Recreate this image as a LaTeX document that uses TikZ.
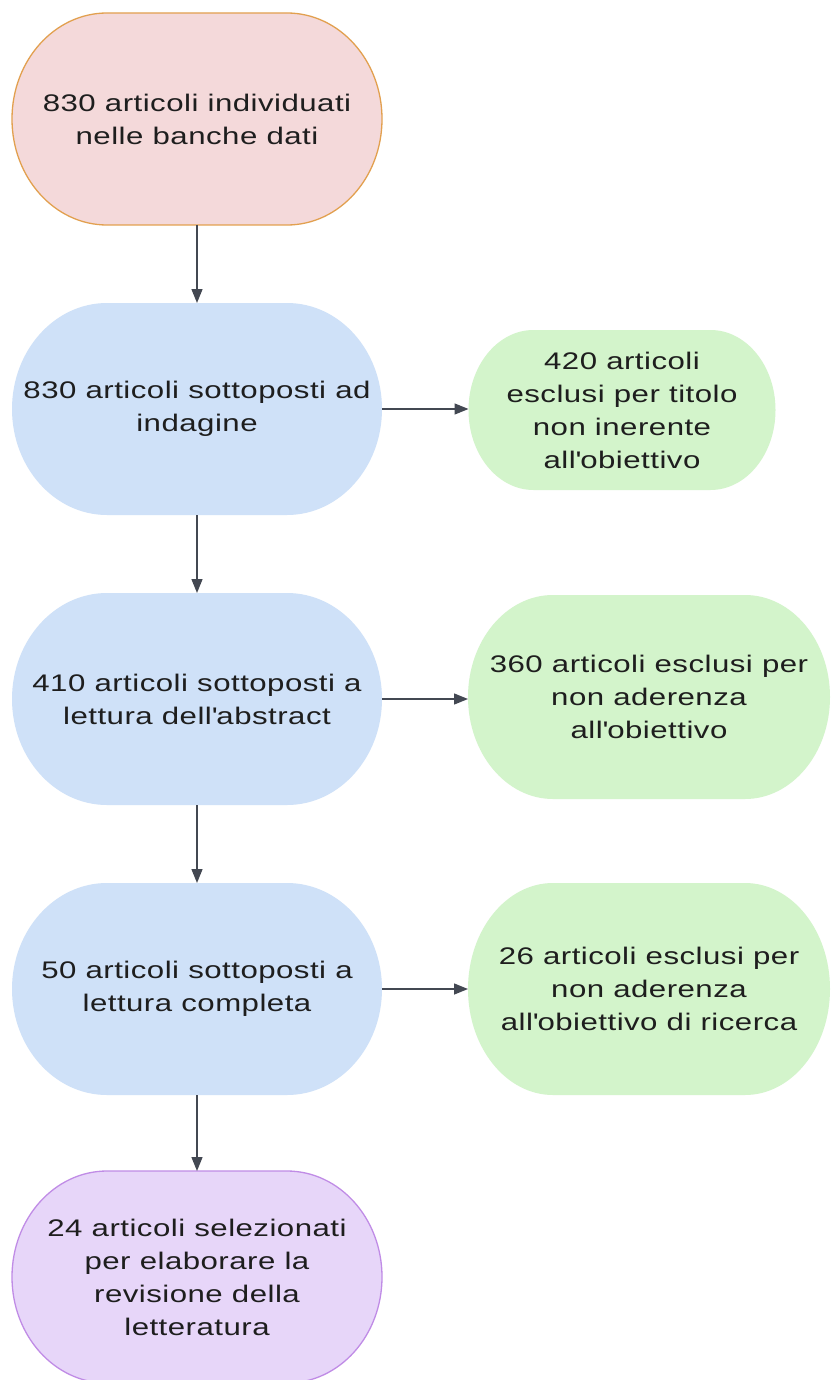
\documentclass[tikz,border=0pt]{standalone}
\usepackage{fontspec}
\setmainfont{Liberation Sans}[FakeStretch=1.3,LetterSpace=2]
\usetikzlibrary{arrows.meta,backgrounds}
\definecolor{pinkfill}{HTML}{F4D9DA}
\definecolor{pinkline}{HTML}{E2A04F}
\definecolor{bluefill}{HTML}{CFE1F8}
\definecolor{greenfill}{HTML}{D3F4CB}
\definecolor{purplefill}{HTML}{E7D6F9}
\definecolor{purpleline}{HTML}{C08CE6}
\definecolor{arrowcol}{HTML}{434852}
\definecolor{textcol}{HTML}{1E1E1E}
% name, rx, half height, fill, draw
\newcommand\stadiumshape[5]{%
  \path[fill=#4,draw=#5,line width=1.3pt]
    ([xshift=#2]#1.north west) -- ([xshift=-#2]#1.north east)
    arc[start angle=90,end angle=-90,x radius=#2,y radius=#3]
    -- ([xshift=#2]#1.south west)
    arc[start angle=270,end angle=90,x radius=#2,y radius=#3] -- cycle;}
\newcommand\apos{\textquotesingle}
\tikzset{
  box/.style={rectangle, inner sep=0pt, outer sep=0pt, align=center,
    text=textcol, font=\fontsize{24}{33}\selectfont},
  big/.style={box, minimum width=370pt, minimum height=212pt},
  conn/.style={draw=arrowcol, line width=1.4pt,
    -{Triangle[length=14pt,width=11pt]}}
}
\begin{document}
\begin{tikzpicture}[x=1pt,y=1pt]
\useasboundingbox (0,0) rectangle (832,-1380);

\node[big] (n1) at (197,-119) {830 articoli individuati\\nelle banche dati};
\node[big] (n2) at (197,-409) {830 articoli sottoposti ad\\indagine};
\node[big] (n3) at (197,-699) {410 articoli sottoposti a\\lettura dell\apos abstract};
\node[big] (n4) at (197,-989) {50 articoli sottoposti a\\lettura completa};
\node[big] (n5) at (197,-1277) {24 articoli selezionati\\per elaborare la\\revisione della\\letteratura};

\node[box, minimum width=307pt, minimum height=160pt] (g1) at (622,-410)
  {420 articoli\\esclusi per titolo\\non inerente\\all\apos obiettivo};
\node[box, minimum width=362pt, minimum height=204pt] (g2) at (649,-697)
  {360 articoli esclusi per\\non aderenza\\all\apos obiettivo};
\node[box, minimum width=362pt, minimum height=212pt] (g3) at (649,-989)
  {26 articoli esclusi per\\non aderenza\\all\apos obiettivo di ricerca};

\begin{scope}[on background layer]
  \fill[white] (0,0) rectangle (832,-1380);
  \stadiumshape{n1}{95pt}{106pt}{pinkfill}{pinkline}
  \stadiumshape{n2}{95pt}{106pt}{bluefill}{none}
  \stadiumshape{n3}{95pt}{106pt}{bluefill}{none}
  \stadiumshape{n4}{95pt}{106pt}{bluefill}{none}
  \stadiumshape{n5}{95pt}{106pt}{purplefill}{purpleline}
  \stadiumshape{g1}{65pt}{80pt}{greenfill}{none}
  \stadiumshape{g2}{85pt}{102pt}{greenfill}{none}
  \stadiumshape{g3}{85pt}{106pt}{greenfill}{none}
\end{scope}

\draw[conn] (n1.south) -- (n2.north);
\draw[conn] (n2.south) -- (n3.north);
\draw[conn] (n3.south) -- (n4.north);
\draw[conn] (n4.south) -- (n5.north);
\draw[conn] (n2.east) -- (n2.east -| g1.west);
\draw[conn] (n3.east) -- (n3.east -| g2.west);
\draw[conn] (n4.east) -- (n4.east -| g3.west);
\end{tikzpicture}
\end{document}
